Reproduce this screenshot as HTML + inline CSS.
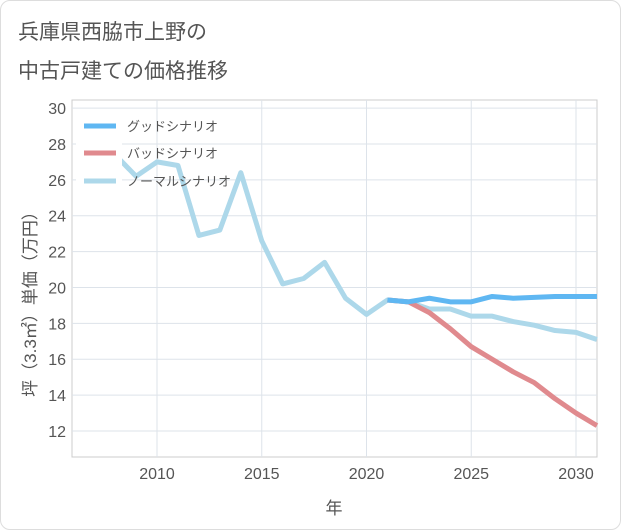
<!DOCTYPE html>
<html><head><meta charset="utf-8">
<style>
body{margin:0;background:#fff;font-family:"Liberation Sans","Noto Sans CJK JP",sans-serif;}
#card{position:absolute;left:0;top:0;width:619px;height:528px;border:1px solid #ddd;border-radius:10px;background:#fff;}
.title{position:absolute;left:18px;font-size:21px;color:#555;}
</style></head><body>
<div id="card"></div>
<div class="title" style="top:16px">兵庫県西脇市上野の</div>
<div class="title" style="top:55px">中古戸建ての価格推移</div>
<svg id="chart" width="621" height="530" style="position:absolute;left:0;top:0"></svg>
<script>
const years=[2008,2009,2010,2011,2012,2013,2014,2015,2016,2017,2018,2019,2020,2021,2022,2023,2024,2025,2026,2027,2028,2029,2030,2031];
const normal=[27.4,26.2,27.0,26.8,22.9,23.2,26.4,22.6,20.2,20.5,21.4,19.4,18.5,19.3,19.2,18.8,18.8,18.4,18.4,18.1,17.9,17.6,17.5,17.1];
const goodYears=[2021,2022,2023,2024,2025,2026,2027,2028,2029,2030,2031];
const good=[19.3,19.2,19.4,19.2,19.2,19.5,19.4,19.45,19.5,19.5,19.5];
const bad=[19.3,19.2,18.6,17.7,16.7,16.0,15.3,14.7,13.8,13.0,12.3];
const xTicks=[2010,2015,2020,2025,2030];
const yTicks=[12,14,16,18,20,22,24,26,28,30];
const L=72,R=597,T=100,B=457;
const x=v=>157+(v-2010)*20.95;
const y=v=>431-(v-12)*17.94;
const svg=document.getElementById('chart');
const NS='http://www.w3.org/2000/svg';
function mk(t,a){const e=document.createElementNS(NS,t);for(const k in a)e.setAttribute(k,a[k]);svg.appendChild(e);return e;}
let bg=mk('rect',{x:L,y:T,width:R-L,height:B-T,fill:'#fff',stroke:'#ccc'});


yTicks.forEach(v=>{
 const g=mk('line',{x1:L,x2:R,y1:y(v),y2:y(v),stroke:'#dde3ea'});
 
 
 const t=mk('text',{x:66,y:y(v)+6,'text-anchor':'end','font-size':'16',fill:'#555'});
 t.textContent=v;
 
 
});
xTicks.forEach(v=>{
 const g=mk('line',{x1:x(v),x2:x(v),y1:T,y2:B,stroke:'#dde3ea'});
 
 
 const t=mk('text',{x:x(v),y:479,'text-anchor':'middle','font-size':'16',fill:'#555'});
 t.textContent=v;
 
 
});
function series(xs,vs,color,name){
 const p=mk('polyline',{points:xs.map((d,i)=>x(d)+','+y(vs[i])).join(' '),fill:'none',stroke:color,'stroke-width':5,'stroke-linejoin':'round'});
 
 
}
series(years,normal,'#add8ea','normal-scenario-line');
series(goodYears,bad,'#e08a8e','bad-scenario-line');
series(goodYears,good,'#5fb7f2','good-scenario-line');
let lg=mk('rect',{x:76,y:110,width:46,height:86,fill:'#fff'});


[['グッドシナリオ','#5fb7f2',126],['バッドシナリオ','#e08a8e',153],['ノーマルシナリオ','#add8ea',181]].forEach(([n,c,yy])=>{
 const l=mk('line',{x1:84,x2:116,y1:yy,y2:yy,stroke:c,'stroke-width':5});
 
 
 const t=mk('text',{x:127,y:yy+5,'font-size':'13',fill:'#555'});
 t.textContent=n;
 
 
});
const xt=mk('text',{x:334,y:514,'text-anchor':'middle','font-size':'17',fill:'#555'});
xt.textContent='年';


const yt=mk('text',{x:0,y:0,'text-anchor':'middle','font-size':'17',fill:'#555',transform:'translate(36,300) rotate(-90)'});
yt.textContent='坪（3.3㎡）単価（万円）';


</script>
</body></html>
